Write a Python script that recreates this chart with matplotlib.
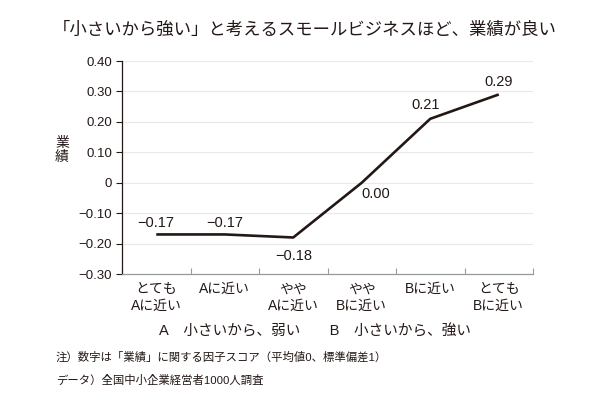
import matplotlib
matplotlib.use("Agg")
from matplotlib import pyplot as plt

plt.rcParams['font.family'] = ['Liberation Sans', 'Noto Sans CJK JP', 'DejaVu Sans']

title = "「小さいから強い」と考えるスモールビジネスほど、業績が良い"
ylabel = "業\n績"
categories = ["とても\nAに近い", "Aに近い", "やや\nAに近い", "やや\nBに近い", "Bに近い", "とても\nBに近い"]
values = [-0.17, -0.17, -0.18, 0.00, 0.21, 0.29]
value_labels = ["−0.17", "−0.17", "−0.18", "0.00", "0.21", "0.29"]
yticks = [0.40, 0.30, 0.20, 0.10, 0.0, -0.10, -0.20, -0.30]
ytick_labels = ["0.40", "0.30", "0.20", "0.10", "0", "−0.10", "−0.20", "−0.30"]
legend_text = "A　小さいから、弱い　　B　小さいから、強い"
notes = ["注）数字は「業績」に関する因子スコア（平均値0、標準偏差1）",
         "データ）全国中小企業経営者1000人調査"]

ink = "#231815"

fig = plt.figure(figsize=(6, 4), dpi=100)
ax = fig.add_axes([122 / 600, 1 - 274 / 400, 411 / 600, 213 / 400])

x = list(range(len(categories)))
ax.plot(x, values, color=ink, lw=1.9, solid_joinstyle='round', solid_capstyle='butt', zorder=3)

# label offsets in points (dx, dy, ha)
offsets = [(0, 8, 'center'), (0, 8, 'center'), (0, -13, 'center'),
           (0, -8, 'left'), (-3, 10, 'center'), (0, 9, 'center')]
for xi, v, lab, (dx, dy, ha) in zip(x, values, value_labels, offsets):
    ax.annotate(lab, (xi, v), xytext=(dx, dy), textcoords='offset points',
                ha=ha, va='center', fontsize=10.5, color=ink)

ax.set_xlim(-0.5, len(categories) - 0.5)
ax.set_ylim(-0.30, 0.40)
ax.set_yticks(yticks)
ax.set_yticklabels(ytick_labels)
ax.yaxis.grid(True, color="#e8e8e8", lw=0.8)
ax.set_axisbelow(True)

ax.set_xticks([i - 0.5 for i in range(len(categories) + 1)])
ax.set_xticklabels([])
ax.set_xticks(x, minor=True)
ax.set_xticklabels(categories, minor=True, fontsize=10, color=ink, linespacing=1.2)
ax.tick_params(axis='x', which='major', direction='in', length=4, color="#999999", width=0.8)
ax.tick_params(axis='x', which='minor', length=0, pad=6)
ax.tick_params(axis='y', direction='out', length=4, color=ink, width=0.8, labelsize=9.5, labelcolor=ink, pad=3)

for s in ['top', 'right']:
    ax.spines[s].set_visible(False)
ax.spines['left'].set_color(ink)
ax.spines['left'].set_linewidth(0.9)
ax.spines['bottom'].set_color("#999999")
ax.spines['bottom'].set_linewidth(0.9)

fig.text(305 / 600, 1 - 30 / 400, title, ha='center', va='center', fontsize=12.5, color=ink)
fig.text(62 / 600, 1 - 150 / 400, ylabel, ha='center', va='center', fontsize=10, color=ink, linespacing=1.0)
fig.text(315 / 600, 1 - 331 / 400, legend_text, ha='center', va='center', fontsize=10.5, color=ink)
fig.text(56 / 600, 1 - 357 / 400, notes[0], ha='left', va='center', fontsize=8.2, color=ink)
fig.text(56 / 600, 1 - 380 / 400, notes[1], ha='left', va='center', fontsize=8.2, color=ink)

fig.savefig("out.png", dpi=100)
